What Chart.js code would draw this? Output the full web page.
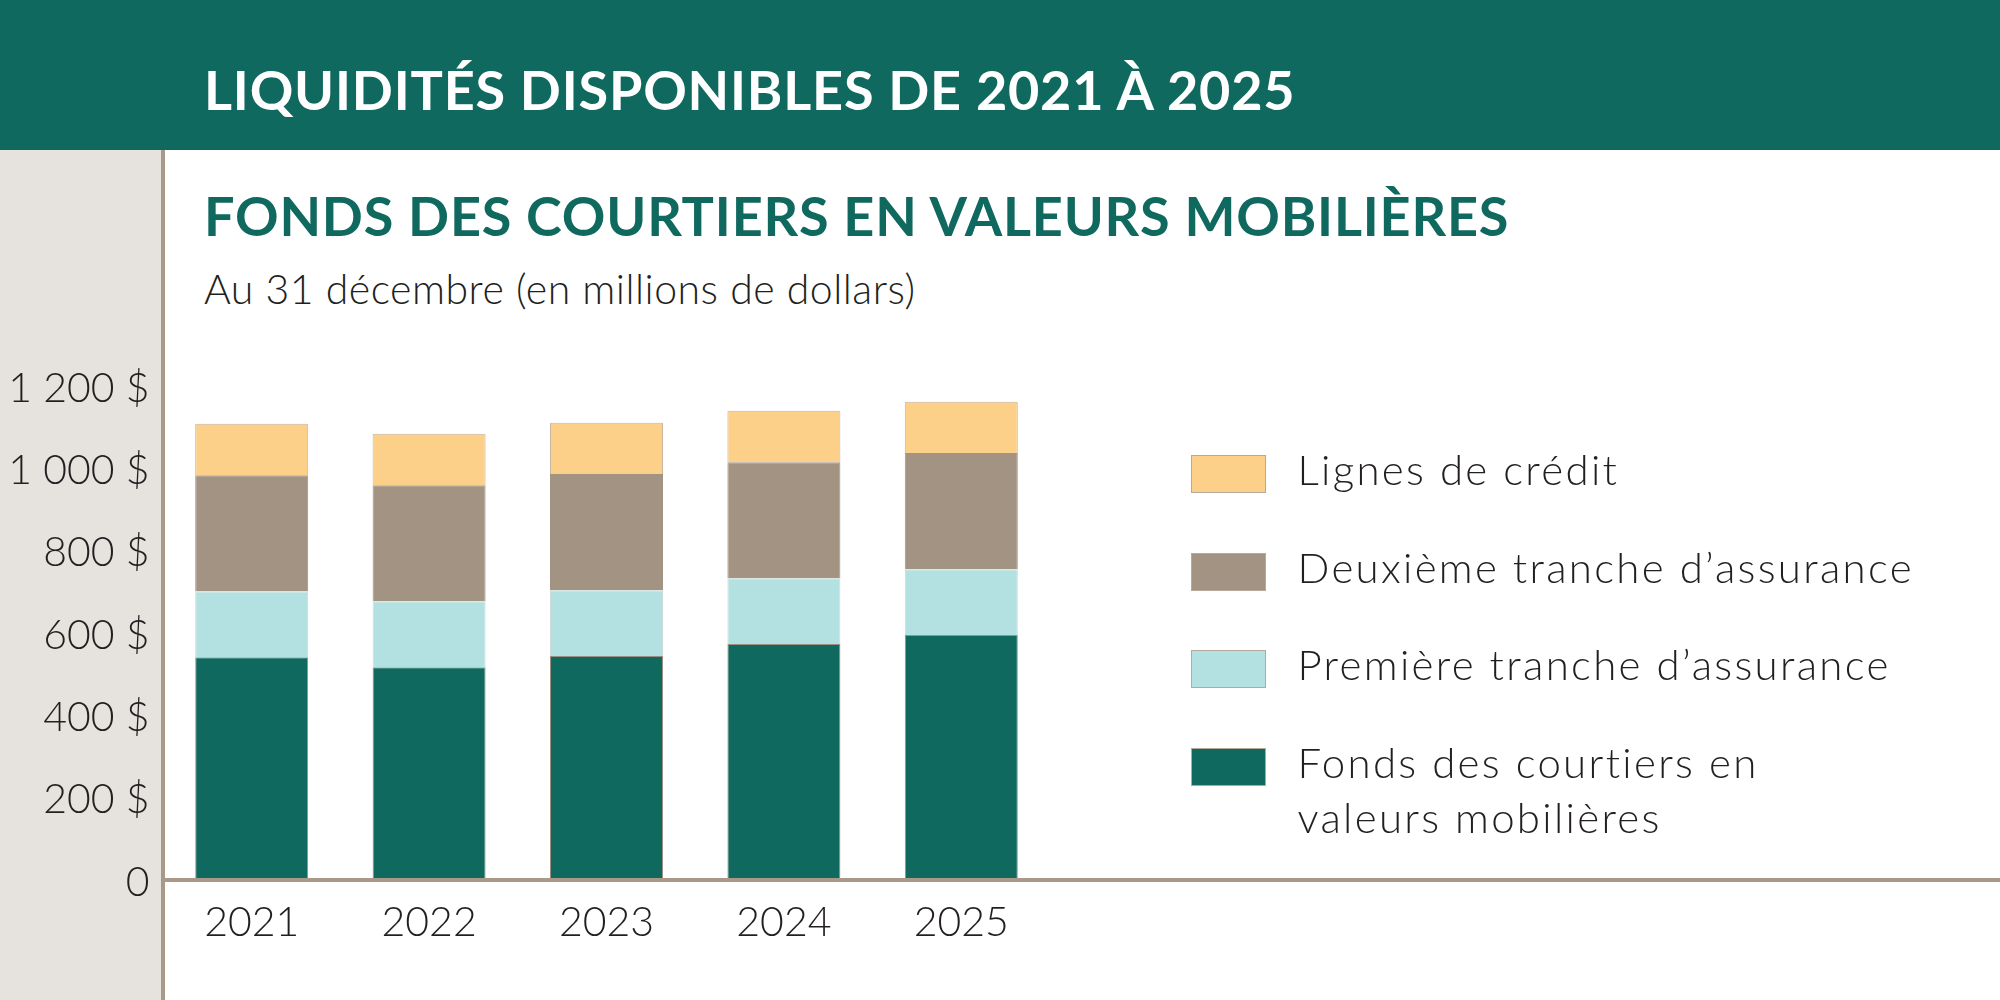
<!DOCTYPE html>
<html lang="fr">
<head>
<meta charset="utf-8">
<script src="https://cdn.jsdelivr.net/npm/chart.js@4.4.1/dist/chart.umd.min.js"></script>
<style>
  html, body { margin: 0; padding: 0; }
  body { width: 2000px; height: 1000px; position: relative; overflow: hidden; background: #ffffff; font-family: Lato, "Noto Sans", sans-serif; }
  #header { position: absolute; left: 0; top: 0; width: 2000px; height: 150px; background: #10695E; }
  #band { position: absolute; left: 0; top: 150px; width: 161px; height: 850px; background: #E6E2DE; }
  #vline { position: absolute; left: 161px; top: 150px; width: 4px; height: 850px; background: #A89988; }
  .txt { position: absolute; white-space: nowrap; line-height: 1.2; }
  #title { left: 204px; top: 58px; font-size: 54px; font-weight: 700; color: #ffffff; letter-spacing: 0.8px; }
  #subtitle { left: 204px; top: 184px; font-size: 54px; font-weight: 700; color: #10695E; letter-spacing: 0.8px; }
  #note { left: 204px; top: 264px; font-size: 41px; font-family: "Lato Light", Lato, sans-serif; font-weight: 300; color: #231F20; letter-spacing: 0.5px; }
  #chartWrap { position: absolute; left: 0; top: 0; width: 2000px; height: 1000px; }
  #legend { position: absolute; left: 1191px; top: 455px; }
  .item { position: relative; height: 97.7px; }
  .box { position: absolute; left: 0; top: 0; width: 73px; height: 36px; border: 1px solid #B5A99C; }
  .lab { position: absolute; left: 106.5px; top: -13px; font-size: 42px; font-family: "Lato Light", Lato, sans-serif; font-weight: 300; color: #231F20; line-height: 55px; white-space: nowrap; letter-spacing: 2.3px; }
</style>
</head>
<body>
<div id="header"></div>
<div id="band"></div>
<div id="vline"></div>
<div class="txt" id="title">LIQUIDITÉS DISPONIBLES DE 2021 À 2025</div>
<div class="txt" id="subtitle">FONDS DES COURTIERS EN VALEURS MOBILIÈRES</div>
<div class="txt" id="note">Au 31 décembre (en millions de dollars)</div>
<div id="chartWrap"><canvas id="c" width="2000" height="1000"></canvas></div>
<div id="legend"></div>
<script>
// ---- Data (millions de dollars) ----
const years = ['2021', '2022', '2023', '2024', '2025'];
const fondsCourtiers = [541, 517, 544, 573, 595];
const premiereTranche = [160, 160, 160, 160, 160];
const deuxiemeTranche = [282, 282, 282, 282, 282];
const lignesCredit = [125, 125, 125, 125, 125];
const yTickValues = [0, 200, 400, 600, 800, 1000, 1200];

const labelFonds = ['Fonds des courtiers en', 'valeurs mobilières'];
const labelPremiere = 'Première tranche d’assurance';
const labelDeuxieme = 'Deuxième tranche d’assurance';
const labelLignes = 'Lignes de crédit';

const cGreen = '#10695E', cCyan = '#B3E0E0', cBrown = '#A39382', cYellow = '#FDD089';

function fmt(v) {
  if (v === 0) return '0';
  const s = String(v);
  const t = s.length > 3 ? s.slice(0, s.length - 3) + ' ' + s.slice(-3) : s;
  return t + ' $';
}

const axisLine = {
  id: 'axisLine',
  afterDatasetsDraw(chart) {
    const ctx = chart.ctx;
    const y0 = chart.scales.y.getPixelForValue(0);
    ctx.save();
    ctx.strokeStyle = '#A89988';
    ctx.lineWidth = 4;
    ctx.beginPath();
    ctx.moveTo(chart.chartArea.left - 2, y0);
    ctx.lineTo(chart.width, y0);
    ctx.stroke();
    ctx.restore();
  }
};

const datasets = [
  { label: labelFonds, data: fondsCourtiers, backgroundColor: cGreen, borderColor: '#9C9083', borderWidth: 1 },
  { label: labelPremiere, data: premiereTranche, backgroundColor: cCyan, borderColor: '#C9DCDA', borderWidth: 1 },
  { label: labelDeuxieme, data: deuxiemeTranche, backgroundColor: cBrown, borderColor: '#A39382', borderWidth: 1 },
  { label: labelLignes, data: lignesCredit, backgroundColor: cYellow, borderColor: '#C8B79E', borderWidth: 1 }
];

const tickFont = { family: '"Lato Light", Lato', size: 41, weight: 300 };

function draw() {
new Chart(document.getElementById('c'), {
  type: 'bar',
  data: { labels: years, datasets: datasets },
  options: {
    responsive: false,
    animation: false,
    devicePixelRatio: 1,
    layout: { padding: { left: 0, top: 386, right: 950, bottom: 0 } },
    plugins: { legend: { display: false }, tooltip: { enabled: false }, title: { display: false } },
    datasets: { bar: { categoryPercentage: 1, barPercentage: 0.637 } },
    scales: {
      x: {
        stacked: true,
        grid: { display: false, drawTicks: false },
        border: { display: false },
        ticks: { color: '#231F20', font: tickFont, padding: 18, maxRotation: 0 },
        afterFit(s) { s.height = 120; }
      },
      y: {
        stacked: true,
        min: 0, max: 1200,
        grid: { display: false, drawTicks: false },
        border: { display: false },
        afterBuildTicks(s) { s.ticks = yTickValues.map(v => ({ value: v })); },
        ticks: { color: '#231F20', font: tickFont, padding: 13.5, labelOffset: 2.5, callback: (v) => fmt(v) },
        afterFit(s) { s.width = 163; }
      }
    }
  },
  plugins: [axisLine]
});
}
if (document.fonts && document.fonts.load) {
  Promise.all([
    document.fonts.load('300 41px "Lato Light"'),
    document.fonts.load('300 41px Lato')
  ]).then(draw, draw);
} else { draw(); }

// Legend built from the datasets (top to bottom = stack order reversed)
const legend = document.getElementById('legend');
datasets.slice().reverse().forEach(ds => {
  const item = document.createElement('div');
  item.className = 'item';
  const box = document.createElement('div');
  box.className = 'box';
  box.style.background = ds.backgroundColor;
  const lab = document.createElement('div');
  lab.className = 'lab';
  const lines = Array.isArray(ds.label) ? ds.label : [ds.label];
  lines.forEach((l, i) => {
    if (i) lab.appendChild(document.createElement('br'));
    lab.appendChild(document.createTextNode(l));
  });
  item.appendChild(box);
  item.appendChild(lab);
  legend.appendChild(item);
});
</script>
</body>
</html>
